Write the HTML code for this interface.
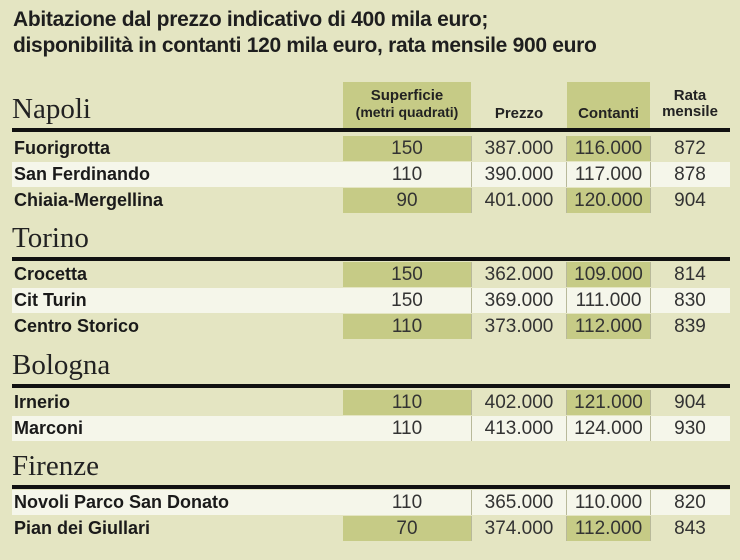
<!DOCTYPE html>
<html><head><meta charset="utf-8"><style>
body{margin:0;width:740px;height:560px;background:#e4e5c2;position:relative;overflow:hidden;font-family:"Liberation Sans Narrow","Liberation Sans",sans-serif;color:#222}
.a{position:absolute}
.t{left:13px;font-weight:bold;font-size:21px;color:#1e1e1e;letter-spacing:-0.3px}
.city{position:absolute;left:12px;font-family:"Liberation Serif",serif;font-size:29px;color:#222}
.rule{position:absolute;left:12px;width:718px;height:4px;background:#111}
.row{position:absolute;left:12px;width:718px;height:25px}
.w{background:#f5f6ea}
.g{position:absolute;top:0;height:100%;background:#c6cb86}
.w .g{background:transparent}
.vl{position:absolute;top:0;height:100%;width:1px;background:#b8b99a}
.c{position:absolute;top:0;height:100%;line-height:25px;font-size:19px;text-align:center;color:#333}
.n{position:absolute;left:2px;top:0;line-height:25px;font-weight:bold;font-size:18px;color:#1a1a1a}
.h{position:absolute;font-weight:bold;font-size:15px;text-align:center;line-height:16px;color:#222}
</style></head><body>
<div class="a t" style="top:8px">Abitazione dal prezzo indicativo di 400 mila euro;</div>
<div class="a t" style="top:34px">disponibilità in contanti 120 mila euro, rata mensile 900 euro</div>

<div class="a" style="left:343px;top:82px;width:128px;height:46px;background:#c6cb86"></div>
<div class="a" style="left:567px;top:82px;width:83px;height:46px;background:#c6cb86"></div>
<div class="h" style="left:343px;top:88px;width:128px">Superficie<br><span style="font-size:14px">(metri quadrati)</span></div>
<div class="h" style="left:471px;top:106px;width:96px">Prezzo</div>
<div class="h" style="left:567px;top:106px;width:83px">Contanti</div>
<div class="h" style="left:650px;top:88px;width:80px">Rata<br>mensile</div>

<div class="city" style="top:93px">Napoli</div><div class="rule" style="top:128px"></div>
<div class="city" style="top:222px">Torino</div><div class="rule" style="top:257px"></div>
<div class="city" style="top:349px">Bologna</div><div class="rule" style="top:384px"></div>
<div class="city" style="top:450px">Firenze</div><div class="rule" style="top:485px"></div>

<div id="rows"></div>
<script>
var rows=[
[136,0,"Fuorigrotta","150","387.000","116.000","872"],
[162,1,"San Ferdinando","110","390.000","117.000","878"],
[188,0,"Chiaia-Mergellina","90","401.000","120.000","904"],
[262,0,"Crocetta","150","362.000","109.000","814"],
[288,1,"Cit Turin","150","369.000","111.000","830"],
[314,0,"Centro Storico","110","373.000","112.000","839"],
[390,0,"Irnerio","110","402.000","121.000","904"],
[416,1,"Marconi","110","413.000","124.000","930"],
[490,1,"Novoli Parco San Donato","110","365.000","110.000","820"],
[516,0,"Pian dei Giullari","70","374.000","112.000","843"]];
var h="";
rows.forEach(function(r){
h+='<div class="row'+(r[1]?' w':'')+'" style="top:'+r[0]+'px">'+
'<div class="g" style="left:331px;width:128px"></div><div class="g" style="left:555px;width:83px"></div>'+
'<div class="vl" style="left:459px"></div><div class="vl" style="left:554px"></div><div class="vl" style="left:638px"></div>'+
'<div class="n">'+r[2]+'</div>'+
'<div class="c" style="left:331px;width:128px">'+r[3]+'</div>'+
'<div class="c" style="left:459px;width:96px">'+r[4]+'</div>'+
'<div class="c" style="left:555px;width:83px">'+r[5]+'</div>'+
'<div class="c" style="left:638px;width:80px">'+r[6]+'</div></div>';});
document.getElementById("rows").innerHTML=h;
</script>
</body></html>
